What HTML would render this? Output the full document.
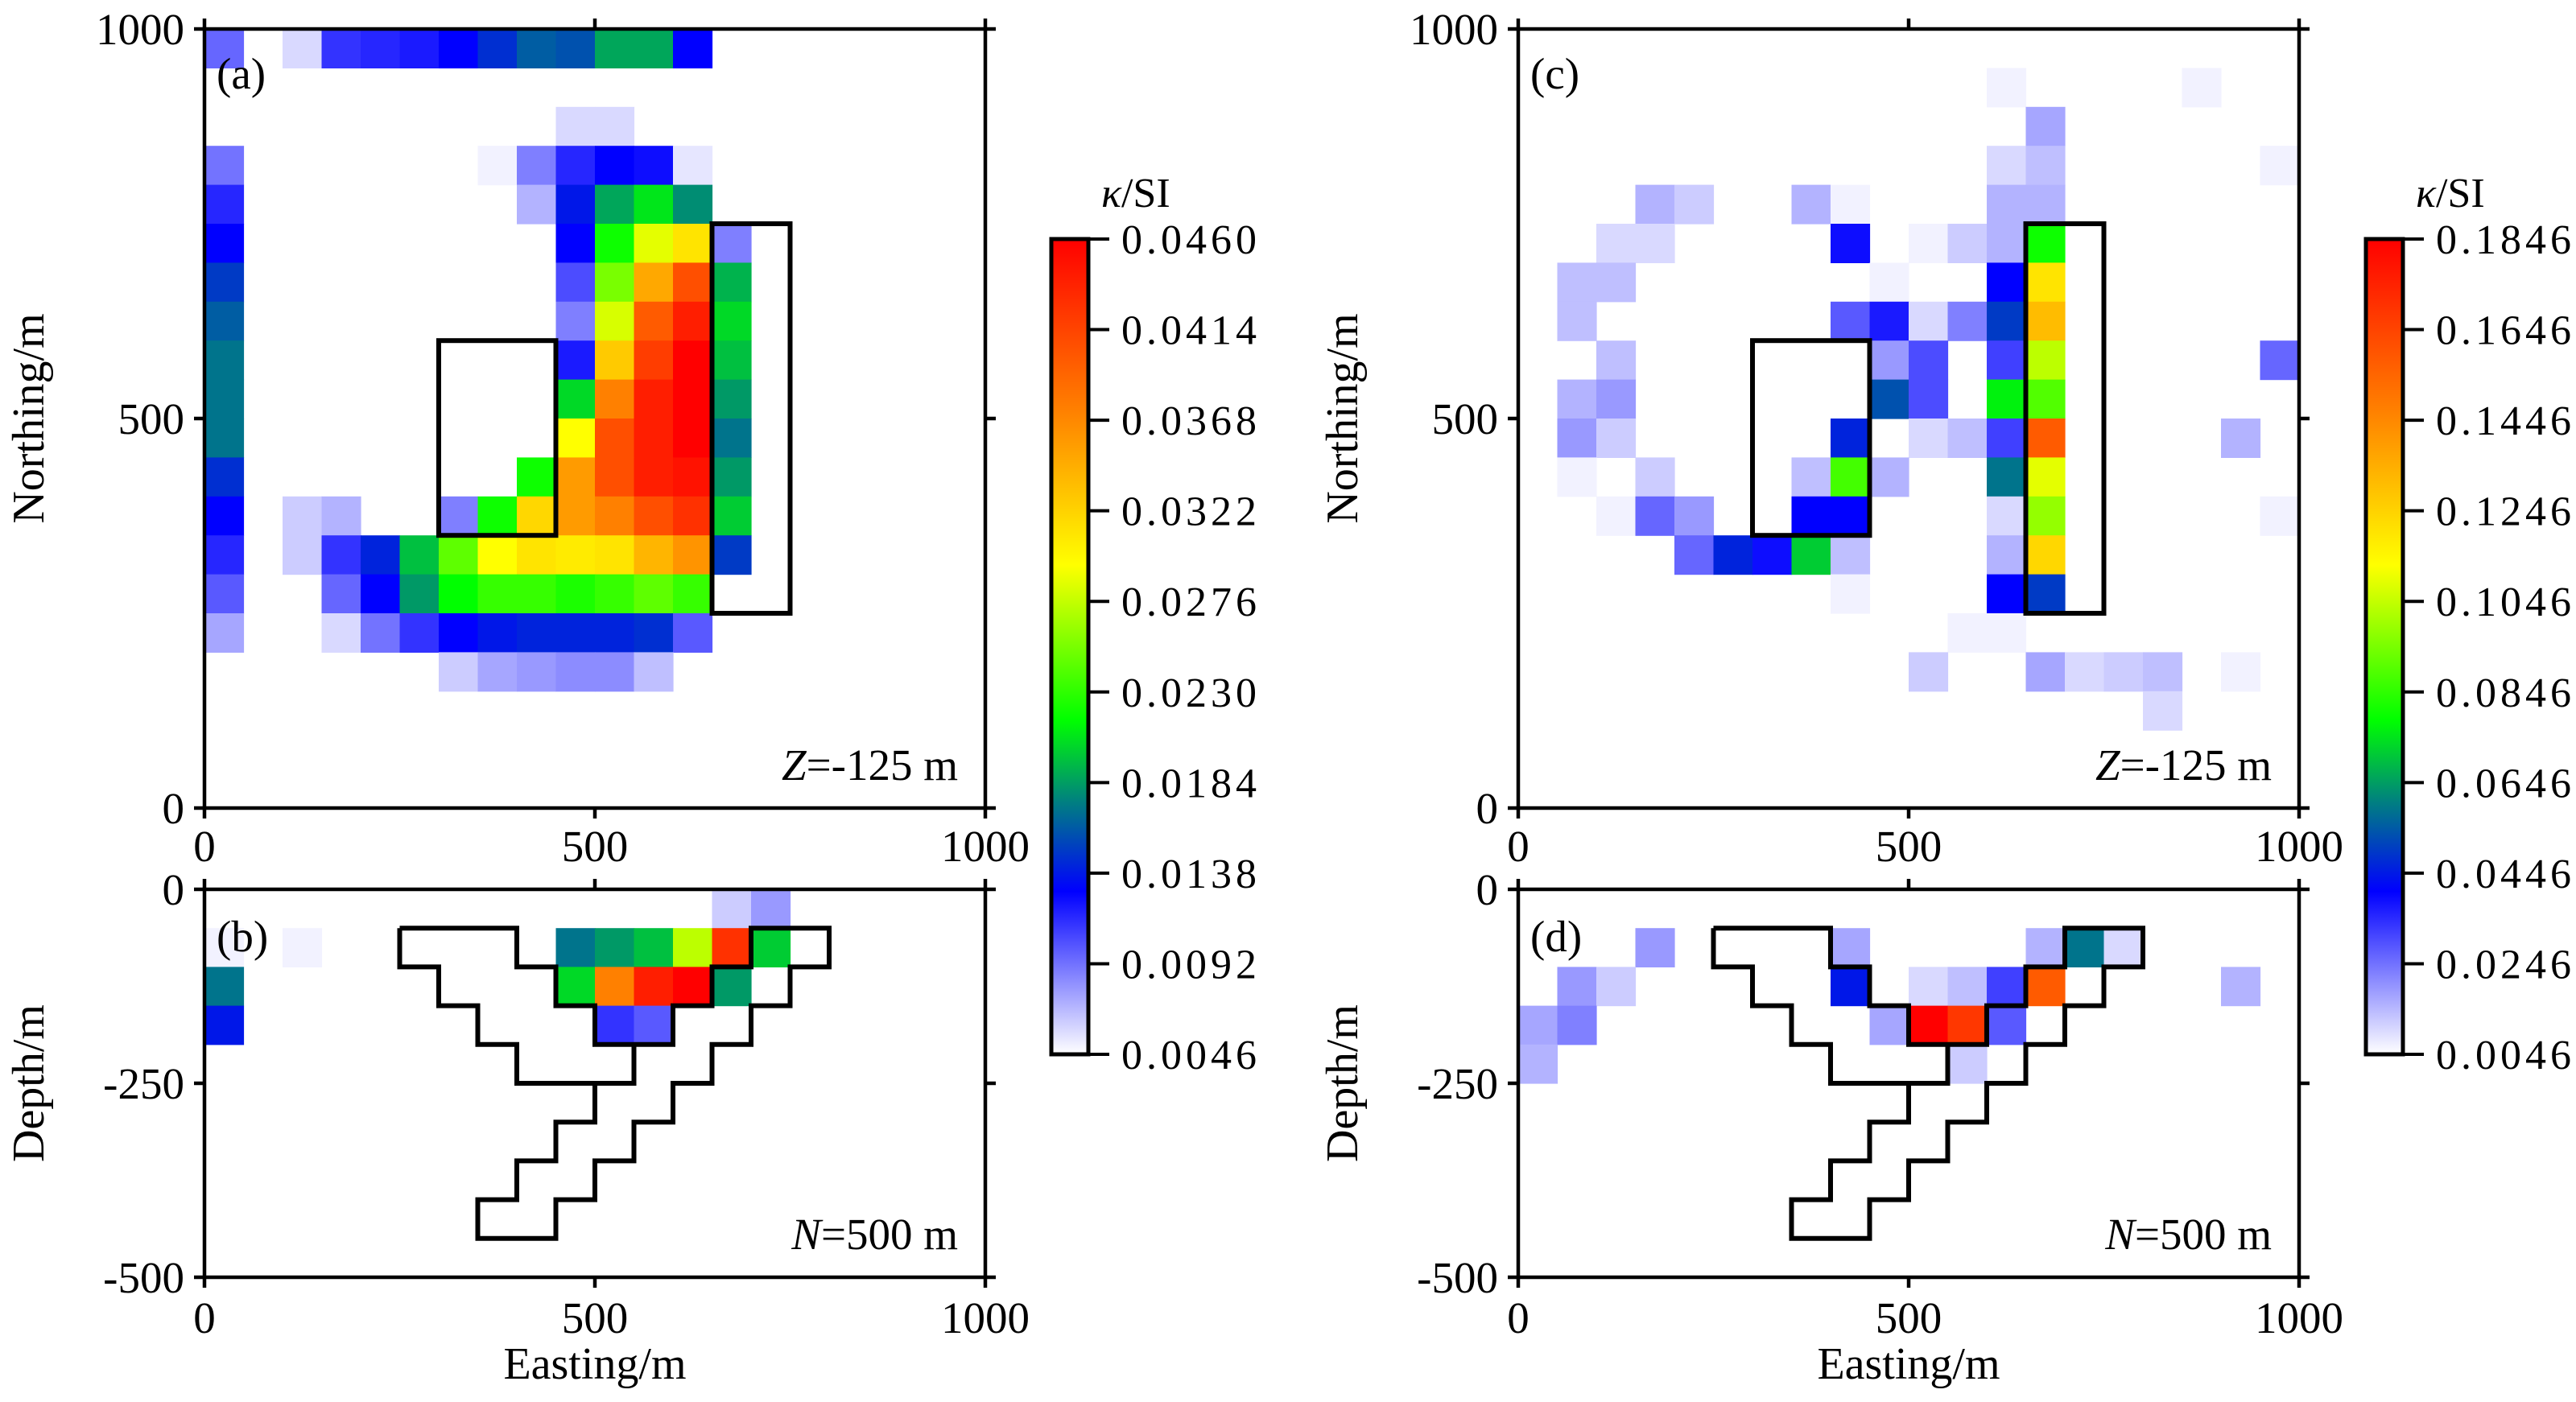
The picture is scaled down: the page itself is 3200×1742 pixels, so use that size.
<!DOCTYPE html>
<html><head><meta charset="utf-8"><style>
html,body{margin:0;padding:0;background:#fff;}
svg{display:block;font-family:"Liberation Serif",serif;}
svg text{font-family:"Liberation Serif",serif;}
</style></head><body>
<svg id="fig" width="3200" height="1742" viewBox="0 0 3200 1742" xmlns="http://www.w3.org/2000/svg" font-family="Liberation Serif, serif">
<defs>
<linearGradient id="cmap" x1="0" y1="1" x2="0" y2="0">
<stop offset="0" stop-color="#ffffff"/><stop offset="0.2" stop-color="#0000ff"/><stop offset="0.31" stop-color="#008080"/><stop offset="0.41" stop-color="#00ff00"/><stop offset="0.6" stop-color="#ffff00"/><stop offset="0.79" stop-color="#ff8000"/><stop offset="1" stop-color="#ff0000"/>
</linearGradient>
</defs>
<g id="layer"></g>
</svg>
<script>
// ---- data: [column (50 m), row (50 m), normalised susceptibility in % of colour range] ----
const panelACells = [
[0,19,12],[2,19,3],[3,19,16],[4,19,17],[5,19,18],[6,19,20],[7,19,24],[8,19,28],[9,19,27],[10,19,34],[11,19,34],[12,19,20],
[9,17,3],[10,17,3],
[0,16,11],[7,16,1],[8,16,10],[9,16,17],[10,16,20],[11,16,19],[12,16,2],
[0,15,17],[8,15,6],[9,15,22],[10,15,34],[11,15,39],[12,15,32],
[0,14,20],[9,14,20],[10,14,42],[11,14,58],[12,14,64],[13,14,10],
[0,13,25],[9,13,14],[10,13,50],[11,13,73],[12,13,87],[13,13,35],
[0,12,28],[9,12,10],[10,12,57],[11,12,85],[12,12,95],[13,12,38],
[0,11,30],[9,11,18],[10,11,68],[11,11,90],[12,11,100],[13,11,36],
[0,10,30],[9,10,38],[10,10,79],[11,10,95],[12,10,100],[13,10,33],
[0,9,30],[9,9,60],[10,9,87],[11,9,95],[12,9,100],[13,9,30],
[0,8,24],[8,8,42],[9,8,75],[10,8,87],[11,8,95],[12,8,97],[13,8,33],
[0,7,20],[2,7,4],[3,7,6],[6,7,10],[7,7,42],[8,7,66],[9,7,75],[10,7,79],[11,7,87],[12,7,92],[13,7,37],
[0,6,17],[2,6,4],[3,6,16],[4,6,23],[5,6,36],[6,6,48],[7,6,60],[8,6,64],[9,6,63],[10,6,64],[11,6,71],[12,6,76],[13,6,25],
[0,5,13],[3,5,12],[4,5,20],[5,5,33],[6,5,41],[7,5,45],[8,5,45],[9,5,43],[10,5,45],[11,5,48],[12,5,45],
[0,4,7],[3,4,3],[4,4,11],[5,4,16],[6,4,20],[7,4,22],[8,4,23],[9,4,23],[10,4,23],[11,4,24],[12,4,13],
[6,3,4],[7,3,7],[8,3,8],[9,3,9],[10,3,9],[11,3,5]
];
const panelBCells = [
[13,0,4],[14,0,8],
[0,1,1],[2,1,1],[9,1,30],[10,1,33],[11,1,36],[12,1,55],[13,1,92],[14,1,37],
[0,2,30],[9,2,38],[10,2,79],[11,2,95],[12,2,100],[13,2,33],
[0,3,22],[10,3,16],[11,3,13]
];
const panelCCells = [
[12,18,1],[17,18,1],[13,17,7],[12,16,3],[13,16,5],[19,16,1],
[3,15,6],[4,15,4],[7,15,6],[8,15,1],[12,15,6],[13,15,6],
[2,14,3],[3,14,3],[8,14,19],[10,14,1],[11,14,4],[12,14,6],[13,14,42],
[1,13,5],[2,13,5],[9,13,1],[12,13,20],[13,13,64],
[1,12,5],[8,12,13],[9,12,18],[10,12,3],[11,12,10],[12,12,25],[13,12,70],
[2,11,5],[9,11,8],[10,11,14],[12,11,15],[13,11,55],[19,11,12],
[1,10,6],[2,10,8],[9,10,27],[10,10,14],[12,10,40],[13,10,47],
[1,9,8],[2,9,4],[8,9,23],[10,9,3],[11,9,5],[12,9,15],[13,9,85],[18,9,6],
[1,8,1],[3,8,4],[7,8,5],[8,8,46],[9,8,6],[12,8,30],[13,8,58],
[2,7,1],[3,7,12],[4,7,8],[7,7,20],[8,7,20],[12,7,3],[13,7,52],[19,7,1],
[4,6,12],[5,6,23],[6,6,19],[7,6,37],[8,6,5],[12,6,6],[13,6,66],
[8,5,1],[12,5,20],[13,5,25],
[11,4,1],[12,4,1],
[10,3,4],[13,3,7],[14,3,3],[15,3,4],[16,3,5],[18,3,1],[16,2,3]
];
const panelDCells = [
[3,1,8],[8,1,7],[13,1,6],[14,1,30],[15,1,3],
[1,2,8],[2,2,4],[8,2,22],[10,2,3],[11,2,5],[12,2,15],[13,2,85],[18,2,6],
[0,3,7],[1,3,10],[9,3,7],[10,3,100],[11,3,91],[12,3,13],
[0,4,6],[11,4,4]
];
const rangeLeft = [0.0046, 0.0460];
const rangeRight = [0.0046, 0.1846];
const ticksLeft = ["0.0046","0.0092","0.0138","0.0184","0.0230","0.0276","0.0322","0.0368","0.0414","0.0460"];
const ticksRight = ["0.0046","0.0246","0.0446","0.0646","0.0846","0.1046","0.1246","0.1446","0.1646","0.1846"];
const planTicks = [0, 500, 1000];
const depthTicks = [0, 250, 500];
const smallBlock = [[300,350],[450,600]];
const bigBlock = [[650,250],[750,750]];
const dykeOutline = [[250,50],[400,50],[400,100],[450,100],[450,150],[500,150],[500,200],[600,200],[600,150],[650,150],[650,100],[700,100],[700,50],[800,50],[800,100],[750,100],[750,150],[700,150],[700,200],[650,200],[650,250],[600,250],[600,300],[550,300],[550,350],[500,350],[500,400],[450,400],[450,450],[350,450],[350,400],[400,400],[400,350],[450,350],[450,300],[500,300],[500,250],[400,250],[400,200],[350,200],[350,150],[300,150],[300,100],[250,100],[250,50]];
const dykeInner = [[500,250],[550,250],[550,200]];

const NS = "http://www.w3.org/2000/svg";
const FONT = "Liberation Serif, serif";
const layer = document.getElementById('layer');
function mk(tag, attrs, parent){const e=document.createElementNS(NS,tag);for(const k in attrs)e.setAttribute(k,attrs[k]);if(tag==='text')e.setAttribute('font-family',FONT);(parent||layer).appendChild(e);return e;}
const stops=[[0,[255,255,255]],[0.2,[0,0,255]],[0.31,[0,128,128]],[0.41,[0,255,0]],[0.6,[255,255,0]],[0.79,[255,128,0]],[1,[255,0,0]]];
function cmap(t){t=Math.max(0,Math.min(1,t));for(let i=1;i<stops.length;i++){if(t<=stops[i][0]){const a=stops[i-1],b=stops[i];const f=(t-a[0])/(b[0]-a[0]);const c=a[1].map((v,k)=>Math.round(v+(b[1][k]-v)*f));return `rgb(${c[0]},${c[1]},${c[2]})`;}}return 'rgb(255,0,0)';}

const PW=970, PH=968, PY=36, DY=1105, DH=482, CELL=50;
function panel(ox, cells, depth, range, letter, note, noteI){
  const g = mk('g',{});
  
  
  const top = depth ? DY : PY, h = depth ? DH : PH;
  const sx = v => ox + v/1000*PW;
  const sy = depth ? (d => DY + d/500*DH) : (n => PY + PH - n/1000*PH);
  for(const c of cells){
    const kappa = range[0] + c[2]/100*(range[1]-range[0]);
    const t = (kappa-range[0])/(range[1]-range[0]);
    let x0=sx(c[0]*CELL), x1=sx((c[0]+1)*CELL), y0, y1;
    if(depth){y0=sy(c[1]*CELL); y1=sy((c[1]+1)*CELL);} else {y0=sy((c[1]+1)*CELL); y1=sy(c[1]*CELL);}
    const r = mk('rect',{x:x0.toFixed(1),y:y0.toFixed(1),width:(x1-x0+0.6).toFixed(1),height:(y1-y0+0.6).toFixed(1),fill:cmap(t)},g);
    
    
  }
  if(depth){
    const p = mk('polyline',{points:dykeOutline.map(q=>sx(q[0])+','+sy(q[1])).join(' '),fill:'none',stroke:'#000','stroke-width':6,'stroke-linejoin':'miter'},g);
    
    
    const p2 = mk('polyline',{points:dykeInner.map(q=>sx(q[0])+','+sy(q[1])).join(' '),fill:'none',stroke:'#000','stroke-width':6},g);
    
    
  } else {
    for(const b of [smallBlock,bigBlock]){
      const r = mk('rect',{x:sx(b[0][0]),y:sy(b[1][1]),width:sx(b[1][0])-sx(b[0][0]),height:sy(b[0][1])-sy(b[1][1]),fill:'none',stroke:'#000','stroke-width':6},g);
      
      
    }
  }
  const fr = mk('rect',{x:ox,y:top,width:PW,height:h,fill:'none',stroke:'#000','stroke-width':4.5},g);
  
  
  for(const v of planTicks){
    const x=sx(v);
    mk('line',{x1:x,y1:top-13,x2:x,y2:top,stroke:'#000','stroke-width':4.5},g);
    mk('line',{x1:x,y1:top+h,x2:x,y2:top+h+13,stroke:'#000','stroke-width':4.5},g);
    const tl = mk('text',{x:x,y:(depth?1656:1070),'font-size':55,'text-anchor':'middle'},g);
    tl.textContent = v;
    
    
  }
  const yt = depth ? depthTicks : planTicks;
  for(const v of yt){
    const y=sy(v);
    mk('line',{x1:ox-13,y1:y,x2:ox,y2:y,stroke:'#000','stroke-width':4.5},g);
    mk('line',{x1:ox+PW,y1:y,x2:ox+PW+13,y2:y,stroke:'#000','stroke-width':4.5},g);
    const tl = mk('text',{x:ox-25,y:y+19,'font-size':55,'text-anchor':'end'},g);
    tl.textContent = depth ? (v===0?'0':'-'+v) : v;
    
    
  }
  const at = mk('text',{x:0,y:0,'font-size':56,'text-anchor':'middle',transform:`translate(${ox-200},${top+h/2}) rotate(-90)`},g);
  at.textContent = depth ? 'Depth/m' : 'Northing/m';
  
  
  const lt = mk('text',{x:ox+15,y:top+(depth?77:74),'font-size':55},g);
  lt.textContent = '('+letter+')';
  
  
  const nt = mk('text',{x:ox+PW-34,y:top+h-35,'font-size':55,'text-anchor':'end'},g);
  const ti = mk('tspan',{'font-style':'italic'},nt); ti.textContent = noteI;
  const tr = mk('tspan',{},nt); tr.textContent = note;
  
  
  if(depth){
    const xt = mk('text',{x:ox+PW/2,y:1713,'font-size':56,'text-anchor':'middle'},g);
    xt.textContent = 'Easting/m';
    
    
  }
}
function colorbar(bx, labels, side){
  const g = mk('g',{});
  
  
  const top=297, bot=1310, w=46;
  const r = mk('rect',{x:bx,y:top,width:w,height:bot-top,fill:'url(#cmap)',stroke:'#000','stroke-width':5},g);
  
  
  labels.forEach((s,i)=>{
    const y = bot - i/(labels.length-1)*(bot-top);
    mk('line',{x1:bx+w,y1:y,x2:bx+w+26,y2:y,stroke:'#000','stroke-width':4},g);
    const t = mk('text',{x:bx+87,y:y+18,'font-size':52,textLength:168,lengthAdjust:'spacing'},g);
    t.textContent = s;
    
    
  });
  const tt = mk('text',{x:bx+62,y:257,'font-size':52},g);
  const k = mk('tspan',{'font-style':'italic'},tt); k.textContent='κ';
  const k2 = mk('tspan',{},tt); k2.textContent='/SI';
  
  
}
panel(254, panelACells, false, rangeLeft, 'a', '=-125 m', 'Z');
panel(254, panelBCells, true, rangeLeft, 'b', '=500 m', 'N');
panel(1886, panelCCells, false, rangeRight, 'c', '=-125 m', 'Z');
panel(1886, panelDCells, true, rangeRight, 'd', '=500 m', 'N');
colorbar(1306, ticksLeft, 'left');
colorbar(2939, ticksRight, 'right');
</script>
</body></html>
